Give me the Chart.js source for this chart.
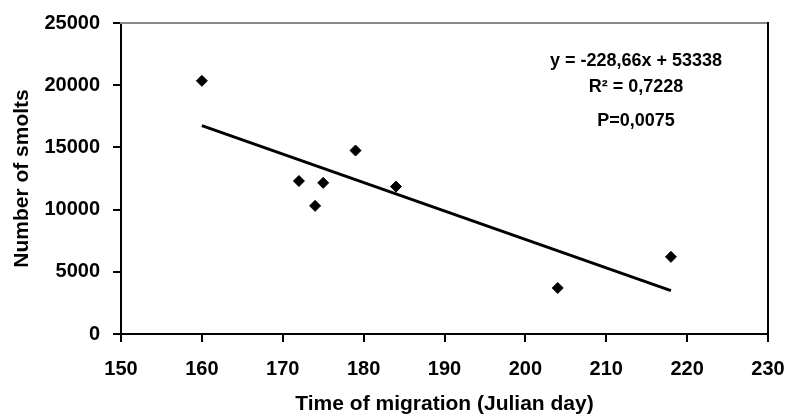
<!DOCTYPE html>
<html>
<head>
<meta charset="utf-8">
<title>Smolts vs time of migration</title>
<script src="https://cdn.jsdelivr.net/npm/chart.js@4/dist/chart.umd.min.js"></script>
<style>
  html, body { margin: 0; padding: 0; background: #fff; }
  #wrap { width: 791px; height: 420px; }
</style>
</head>
<body>
<div id="wrap"><canvas id="chart" width="791" height="420"></canvas></div>
<script>
// ---- data ----
const migrationDays = [160, 172, 174, 175, 179, 184, 204, 218];
const smoltCounts = [20350, 12300, 10300, 12150, 14750, 11850, 3700, 6200];

// trend line as printed on the chart
const trendSlope = -228.66;
const trendIntercept = 53338;
const annotationLines = ["y = -228,66x + 53338", "R² = 0,7228", "P=0,0075"];

const xTicks = [150, 160, 170, 180, 190, 200, 210, 220, 230];
const yTicks = [0, 5000, 10000, 15000, 20000, 25000];

const FONT = "'Liberation Sans', Arial, sans-serif";

// points and trend line
const points = migrationDays.map((d, i) => ({ x: d, y: smoltCounts[i] }));
const xMin = Math.min(...migrationDays);
const xMax = Math.max(...migrationDays);
const trend = [xMin, xMax].map(x => ({ x: x, y: trendSlope * x + trendIntercept }));

// no extra room for overhanging tick labels, the layout padding covers it
function noLabelPadding(s) {
    s.paddingLeft = 0;
    s.paddingRight = 0;
    s.paddingTop = 0;
    s.paddingBottom = 0;
}

// empty axis used only as a frame line (top grey, right black)
function frameAxis(pos, color, min, max) {
    return {
        type: "linear",
        position: pos,
        min: min,
        max: max,
        afterFit: s => {
            if (pos === "top") s.height = 0; else s.width = 0;
            noLabelPadding(s);
        },
        border: { display: true, color: color, width: 2 },
        grid: { display: false, drawTicks: false },
        ticks: { display: false }
    };
}

// equation text
const labelPlugin = {
    id: "eqLabel",
    afterDraw(chart) {
        const { ctx, chartArea: a } = chart;
        ctx.save();
        ctx.fillStyle = "#000";
        ctx.font = "bold 18px " + FONT;
        ctx.textAlign = "center";
        ctx.textBaseline = "middle";
        const cx = a.right - 132;
        const ys = [a.top + 38.5, a.top + 64.5, a.top + 98.5];
        annotationLines.forEach((t, i) => ctx.fillText(t, cx, ys[i]));
        ctx.restore();
    }
};

new Chart(document.getElementById("chart"), {
    type: "scatter",
    data: {
        datasets: [
            {
                label: "Smolts",
                data: points,
                pointStyle: "rectRot",
                pointRadius: 5.5,
                pointHoverRadius: 5.5,
                backgroundColor: "#000",
                borderColor: "#000",
                borderWidth: 1
            },
            {
                type: "line",
                label: "Trend",
                data: trend,
                borderColor: "#000",
                borderWidth: 3,
                pointRadius: 0,
                fill: false
            }
        ]
    },
    options: {
        responsive: false,
        animation: false,
        layout: { padding: { left: 0, right: 23, top: 23, bottom: 0 } },
        plugins: {
            legend: { display: false },
            tooltip: { enabled: false }
        },
        scales: {
            x: {
                type: "linear",
                min: 150,
                max: 230,
                afterBuildTicks: s => { s.ticks = xTicks.map(v => ({ value: v })); },
                afterFit: s => { s.height = 86; noLabelPadding(s); },
                border: { display: true, color: "#000", width: 2 },
                grid: { drawOnChartArea: false, tickLength: 8, color: "#000", lineWidth: 2 },
                ticks: {
                    color: "#000",
                    padding: 15,
                    maxRotation: 0,
                    font: { family: FONT, size: 20, weight: "bold" }
                },
                title: {
                    display: true,
                    text: "Time of migration (Julian day)",
                    color: "#000",
                    padding: { top: 0, bottom: 3 },
                    font: { family: FONT, size: 21, weight: "bold" }
                }
            },
            y: {
                type: "linear",
                min: 0,
                max: 25000,
                afterBuildTicks: s => { s.ticks = yTicks.map(v => ({ value: v })); },
                afterFit: s => { s.width = 121; noLabelPadding(s); },
                border: { display: true, color: "#000", width: 2 },
                grid: { drawOnChartArea: false, tickLength: 8, color: "#000", lineWidth: 2 },
                ticks: {
                    color: "#000",
                    padding: 13,
                    callback: v => String(v),
                    font: { family: FONT, size: 20, weight: "bold" }
                },
                title: {
                    display: true,
                    text: "Number of smolts",
                    color: "#000",
                    padding: { top: 10, bottom: 0 },
                    font: { family: FONT, size: 21, weight: "bold" }
                }
            },
            xTop: frameAxis("top", "#888888", 150, 230),
            yRight: frameAxis("right", "#000000", 0, 25000)
        }
    },
    plugins: [labelPlugin]
});
</script>
</body>
</html>
